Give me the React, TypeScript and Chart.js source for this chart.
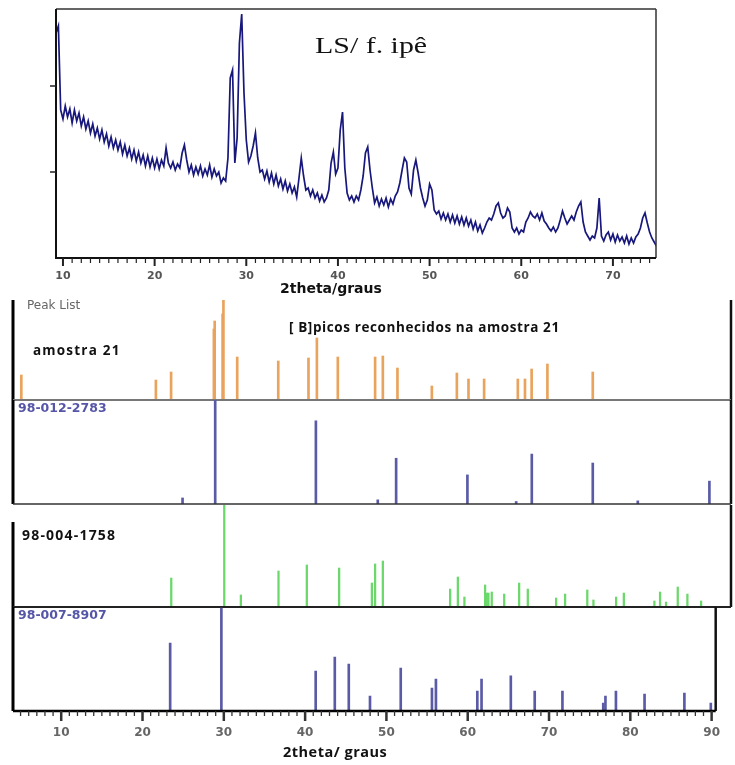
import React, { useEffect, useRef } from 'react';
import { Chart, registerables } from 'chart.js';

Chart.register(...registerables);

// ---------- Top XRD pattern (LS/ f. ipê) ----------
const XRD_START = 9.25; // 2theta of first sample
const XRD_STEP = 0.25; // 2theta step between samples
const xrdIntensity: number[] = [
  225, 232, 148,
  139, 152, 141, 149, // 10
  135, 148, 137, 145, // 11
  132, 141, 129, 137, // 12
  125, 134, 122, 130, // 13
  119, 128, 116, 124, // 14
  112, 121, 110, 118, // 15
  108, 116, 104, 113, // 16
  102, 110, 99, 108, // 17
  97, 106, 95, 103, // 18
  92, 102, 91, 100, // 19
  90, 99, 89, 98, // 20
  92, 110, 95, 90, // 21
  96, 88, 94, 90, // 22
  105, 113, 98, 86, // 23
  93, 83, 91, 84, // 24
  92, 82, 89, 83, // 25
  93, 81, 89, 82, // 26
  86, 75, 80, 77, // 27
  100, 180, 188, 95, // 28
  120, 215, 244, 165, // 29
  118, 96, 102, 112, // 30
  125, 100, 86, 88, // 31
  79, 87, 76, 85, // 32
  74, 83, 72, 79, // 33
  69, 77, 67, 74, // 34
  65, 71, 61, 80, // 35
  100, 82, 68, 70, // 36
  62, 68, 60, 65, // 37
  57, 63, 56, 60, // 38
  68, 95, 106, 84, // 39
  90, 128, 146, 90, // 40
  65, 58, 62, 56, // 41
  62, 58, 68, 82, // 42
  105, 111, 88, 70, // 43
  55, 61, 52, 59, // 44
  53, 60, 51, 59, // 45
  54, 62, 66, 75, // 46
  88, 100, 96, 70, // 47
  64, 88, 98, 85, // 48
  70, 60, 52, 58, // 49
  74, 68, 48, 44, // 50
  47, 39, 45, 38, // 51
  44, 36, 43, 35, // 52
  42, 34, 41, 33, // 53
  40, 32, 38, 29, // 54
  36, 27, 33, 25, // 55
  30, 36, 40, 38, // 56
  44, 52, 55, 45, // 57
  40, 42, 50, 46, // 58
  30, 26, 30, 24, // 59
  28, 26, 36, 40, // 60
  46, 42, 40, 44, // 61
  38, 45, 37, 34, // 62
  30, 27, 31, 26, // 63
  30, 38, 47, 40, // 64
  34, 38, 42, 38, // 65
  46, 52, 56, 36, // 66
  26, 22, 18, 22, // 67
  20, 30, 60, 22, // 68
  17, 23, 26, 18, // 69
  24, 16, 23, 17, // 70
  21, 15, 22, 14, // 71
  20, 15, 21, 24, // 72
  30, 40, 45, 35, // 73
  26, 20, 16, 12, // 74
];
const topXTicks = [10, 20, 30, 40, 50, 60, 70];
const topYTicks = [86, 172];

// ---------- Peak list panels ----------
const sampleAngles = [5.07, 21.27, 23.1, 28.25, 28.35, 29.3, 29.4, 31.06, 36.0, 39.64, 40.65, 43.17, 47.66, 48.59, 50.35, 54.49, 57.5, 58.9, 60.78, 64.84, 65.7, 66.5, 68.4, 73.86];
const sampleHeights = [25, 20, 28, 71, 79, 86, 100, 43, 39, 42, 62, 43, 43, 44, 32, 14, 27, 21, 21, 21, 21, 31, 36, 28];

const ref1Angles = [24.48, 28.41, 40.53, 47.98, 50.19, 58.77, 64.64, 66.52, 73.86, 79.28, 87.9];
const ref1Heights = [5.8, 100, 80, 4, 44, 28, 2.4, 48, 39.4, 3, 22];

const ref2Angles = [23.12, 29.5, 31.5, 36.03, 39.44, 43.33, 47.27, 47.66, 48.59, 56.69, 57.62, 58.41, 60.9, 61.1, 61.3, 61.7, 63.2, 65.0, 66.04, 69.45, 70.53, 73.2, 73.94, 76.67, 77.6, 81.28, 81.96, 82.68, 84.09, 85.25, 86.9];
const ref2Heights = [28.4, 100, 11.8, 35.3, 41.2, 38.2, 23.5, 42.2, 45.1, 17.6, 29.4, 9.8, 21.6, 13.7, 13.7, 14.7, 12.7, 23.5, 17.6, 8.8, 12.7, 16.7, 6.9, 9.8, 13.7, 5.9, 14.7, 4.9, 19.6, 12.7, 5.9];

const ref3Angles = [23.4, 29.7, 41.3, 43.65, 45.37, 47.98, 51.76, 55.6, 56.09, 61.18, 61.7, 65.3, 68.24, 71.65, 76.67, 76.94, 78.23, 81.75, 86.65, 89.9];
const ref3Heights = [65.4, 99, 38.5, 51.9, 45.2, 14.4, 41.3, 22.1, 30.8, 19.2, 30.8, 33.7, 19.2, 19.2, 7.7, 14.4, 19.2, 16.3, 17.3, 7.7];

const bottomXTicks = [10, 20, 30, 40, 50, 60, 70, 80, 90];

const PEAK_X_MIN = 4.07;
const PEAK_X_MAX = 90.5;

function ChartCanvas({ top, height, build }: { top: number; height: number; build: () => any }) {
  const ref = useRef<HTMLCanvasElement | null>(null);
  useEffect(() => {
    const chart = new Chart(ref.current as HTMLCanvasElement, build());
    return () => chart.destroy();
  }, []);
  return (
    <div style={{ position: 'absolute', left: 0, top, width: 735, height }}>
      <canvas ref={ref} width={735} height={height} style={{ display: 'block', width: 735, height }} />
    </div>
  );
}

function line(ctx: CanvasRenderingContext2D, x1: number, y1: number, x2: number, y2: number, color: string, w: number) {
  ctx.strokeStyle = color;
  ctx.lineWidth = w;
  ctx.beginPath();
  ctx.moveTo(x1, y1);
  ctx.lineTo(x2, y2);
  ctx.stroke();
}

function buildTop() {
  const points = xrdIntensity.map((v, i) => ({ x: XRD_START + i * XRD_STEP, y: v }));
  const frame = {
    id: 'topFrame',
    afterDraw(chart: any) {
      const { ctx, chartArea: a, scales } = chart;
      ctx.save();
      line(ctx, a.left, a.top, a.right, a.top, '#333', 1.5);
      line(ctx, a.right, a.top, a.right, a.bottom, '#333', 1.5);
      line(ctx, a.left, a.top, a.left, a.bottom + 1, '#111', 2);
      line(ctx, a.left, a.bottom, a.right, a.bottom, '#111', 2);
      for (let v = 10; v <= 74; v++) {
        const px = scales.x.getPixelForValue(v);
        const major = v % 10 === 0;
        line(ctx, px, a.bottom, px, a.bottom + (major ? 8 : 5), '#222', major ? 2 : 1.2);
      }
      for (const v of topYTicks) {
        const py = scales.y.getPixelForValue(v);
        line(ctx, a.left - 6, py, a.left, py, '#222', 1.5);
      }
      ctx.restore();
    },
  };
  return {
    type: 'line',
    data: {
      datasets: [
        {
          data: points,
          borderColor: '#17177c',
          borderWidth: 1.7,
          pointRadius: 0,
          fill: false,
          tension: 0,
        },
      ],
    },
    options: {
      animation: false,
      responsive: false,
      maintainAspectRatio: false,
      events: [],
      layout: { padding: { left: 56, right: 79, top: 9, bottom: 0 } },
      plugins: { legend: { display: false }, tooltip: { enabled: false } },
      scales: {
        x: {
          type: 'linear',
          min: 9.24,
          max: 74.7,
          afterFit: (s: any) => {
            s.height = 42;
          },
          afterBuildTicks: (s: any) => {
            s.ticks = topXTicks.map((v) => ({ value: v }));
          },
          grid: { display: false, drawTicks: false },
          border: { display: false },
          ticks: {
            padding: 12,
            autoSkip: false,
            maxRotation: 0,
            color: '#555',
            font: { family: 'DejaVu Sans', size: 11, weight: 'bold' },
          },
        },
        y: { display: false, min: 0, max: 249 },
      },
    },
    plugins: [frame],
  };
}

type PanelOpts = {
  angles: number[];
  heights: number[];
  color: string;
  thickness: number;
  bottomColor: string;
  bottomWidth: number;
  leftStart: number;
  showAxis: boolean;
};

function buildPanel(o: PanelOpts) {
  const frame = {
    id: 'panelFrame',
    afterDraw(chart: any) {
      const { ctx, chartArea: a, scales } = chart;
      ctx.save();
      line(ctx, a.left, a.top + o.leftStart, a.left, a.bottom, '#000', 3);
      line(ctx, a.right, a.top, a.right, a.bottom, '#111', 2.5);
      line(ctx, a.left, a.bottom, a.right, a.bottom, o.bottomColor, o.bottomWidth);
      if (o.showAxis) {
        for (let v = 5; v <= 90; v++) {
          const px = scales.x.getPixelForValue(v);
          const major = v % 10 === 0;
          line(ctx, px, a.bottom, px, a.bottom + (major ? 10 : 5), '#333', major ? 2.5 : 1.3);
        }
      }
      ctx.restore();
    },
  };
  const xScale: any = {
    type: 'linear',
    min: PEAK_X_MIN,
    max: PEAK_X_MAX,
    offset: false,
    display: o.showAxis,
    grid: { display: false, drawTicks: false, offset: false },
    border: { display: false },
  };
  if (o.showAxis) {
    xScale.afterFit = (s: any) => {
      s.height = 54;
    };
    xScale.afterBuildTicks = (s: any) => {
      s.ticks = bottomXTicks.map((v) => ({ value: v }));
    };
    xScale.ticks = {
      padding: 15,
      autoSkip: false,
      maxRotation: 0,
      color: '#666',
      font: { family: 'DejaVu Sans', size: 12, weight: 'bold' },
    };
  }
  return {
    type: 'bar',
    data: {
      datasets: [
        {
          data: o.angles.map((ang, i) => ({ x: ang, y: o.heights[i] })),
          backgroundColor: o.color,
          borderWidth: 0,
          barThickness: o.thickness,
        },
      ],
    },
    options: {
      animation: false,
      responsive: false,
      maintainAspectRatio: false,
      events: [],
      layout: { padding: { left: 13, right: 4, top: 4, bottom: o.showAxis ? 0 : 4 } },
      plugins: { legend: { display: false }, tooltip: { enabled: false } },
      scales: {
        x: xScale,
        y: { display: false, min: 0, max: 100 },
      },
    },
    plugins: [frame],
  };
}

function Label({ x, y, text, style }: { x: number; y: number; text: string; style: React.CSSProperties }) {
  return (
    <div
      style={{
        position: 'absolute',
        left: x,
        top: y,
        transform: 'translateY(-50%)',
        lineHeight: 1,
        whiteSpace: 'nowrap',
        ...style,
      }}
    >
      {text}
    </div>
  );
}

export default function App() {
  return (
    <div style={{ position: 'absolute', left: 0, top: 0, width: 735, height: 765, background: '#fff', overflow: 'hidden' }}>
      <ChartCanvas top={0} height={300} build={buildTop} />
      <ChartCanvas
        top={296}
        height={108}
        build={() =>
          buildPanel({ angles: sampleAngles, heights: sampleHeights, color: '#e9a35c', thickness: 2, bottomColor: '#777', bottomWidth: 2, leftStart: 0, showAxis: false })
        }
      />
      <ChartCanvas
        top={396}
        height={112}
        build={() =>
          buildPanel({ angles: ref1Angles, heights: ref1Heights, color: '#5a5aa6', thickness: 2, bottomColor: '#333', bottomWidth: 1.5, leftStart: 0, showAxis: false })
        }
      />
      <ChartCanvas
        top={501}
        height={110}
        build={() =>
          buildPanel({ angles: ref2Angles, heights: ref2Heights, color: '#6ad86a', thickness: 1.6, bottomColor: '#222', bottomWidth: 2, leftStart: 17, showAxis: false })
        }
      />
      <ChartCanvas
        top={603}
        height={162}
        build={() =>
          buildPanel({ angles: ref3Angles, heights: ref3Heights, color: '#5a5aa6', thickness: 2, bottomColor: '#000', bottomWidth: 2.5, leftStart: 0, showAxis: true })
        }
      />

      <Label x={315} y={45} text="LS/ f. ipê" style={{ fontFamily: '"Liberation Serif", serif', fontSize: 23, color: '#111', transform: 'translateY(-50%) scaleX(1.3)', transformOrigin: 'left center' }} />
      <Label x={280} y={288} text="2theta/graus" style={{ fontFamily: '"DejaVu Sans", sans-serif', fontSize: 14, fontWeight: 'bold', color: '#111' }} />

      <Label x={27} y={305} text="Peak List" style={{ fontFamily: '"DejaVu Sans", sans-serif', fontSize: 12, color: '#666' }} />
      <Label x={33} y={351} text="amostra 21" style={{ fontFamily: '"Open Sans", sans-serif', fontSize: 13.5, fontWeight: 'bold', letterSpacing: 1.2, color: '#111' }} />
      <Label x={289} y={328} text="[ B]picos reconhecidos na amostra 21" style={{ fontFamily: '"Open Sans", sans-serif', fontSize: 13.5, fontWeight: 'bold', letterSpacing: 0.6, color: '#111' }} />
      <Label x={18} y={408} text="98-012-2783" style={{ fontFamily: '"DejaVu Sans", sans-serif', fontSize: 12.5, fontWeight: 'bold', color: '#5656a8' }} />
      <Label x={22} y={535} text="98-004-1758" style={{ fontFamily: '"Open Sans", sans-serif', fontSize: 14, fontWeight: 'bold', letterSpacing: 1.2, color: '#111' }} />
      <Label x={18} y={615} text="98-007-8907" style={{ fontFamily: '"DejaVu Sans", sans-serif', fontSize: 12.5, fontWeight: 'bold', color: '#5656a8' }} />
      <Label x={283} y={752} text="2theta/ graus" style={{ fontFamily: '"Open Sans", sans-serif', fontSize: 14.5, fontWeight: 'bold', letterSpacing: 0.5, color: '#111' }} />
    </div>
  );
}
